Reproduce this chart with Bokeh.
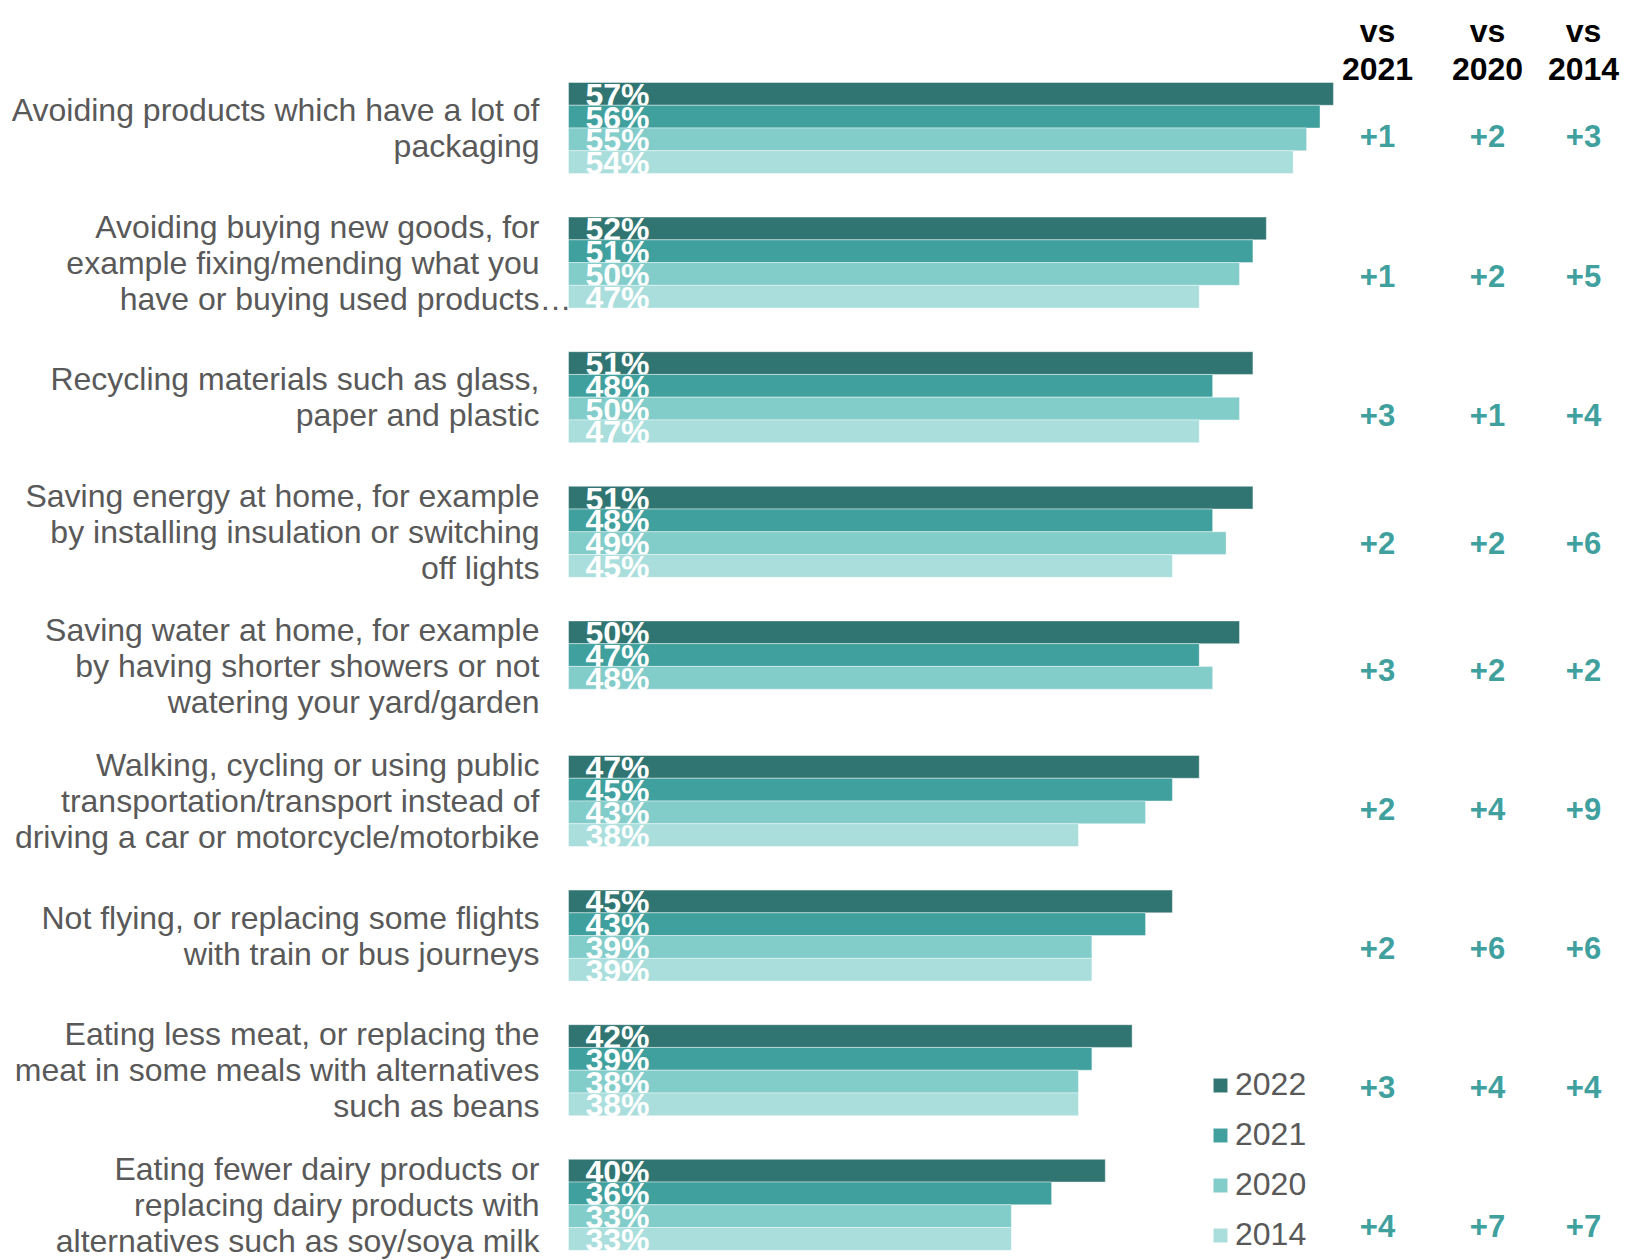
import numpy as np
from bokeh.plotting import figure
from bokeh.models import ColumnDataSource, Range1d, Legend, LegendItem
from bokeh.core.properties import value
from bokeh.embed import file_html
from bokeh.resources import INLINE

# ---------------- data ----------------
categories = [
    "Avoiding products which have a lot of\npackaging",
    "Avoiding buying new goods, for\nexample fixing/mending what you\nhave or buying used products\u2026",
    "Recycling materials such as glass,\npaper and plastic",
    "Saving energy at home, for example\nby installing insulation or switching\noff lights",
    "Saving water at home, for example\nby having shorter showers or not\nwatering your yard/garden",
    "Walking, cycling or using public\ntransportation/transport instead of\ndriving a car or motorcycle/motorbike",
    "Not flying, or replacing some flights\nwith train or bus journeys",
    "Eating less meat, or replacing the\nmeat in some meals with alternatives\nsuch as beans",
    "Eating fewer dairy products or\nreplacing dairy products with\nalternatives such as soy/soya milk",
]
years = ["2022", "2021", "2020", "2014"]
v2022 = [57, 52, 51, 51, 50, 47, 45, 42, 40]
v2021 = [56, 51, 48, 48, 47, 45, 43, 39, 36]
v2020 = [55, 50, 50, 49, 48, 43, 39, 38, 33]
v2014 = [54, 47, 47, 45, None, 38, 39, 38, 33]
series = [v2022, v2021, v2020, v2014]
colors = ["#317572", "#40A09E", "#82CCCA", "#A9DEDC"]

delta_headers = ["2021", "2020", "2014"]
vs2021 = ["+1", "+1", "+3", "+2", "+3", "+2", "+2", "+3", "+4"]
vs2020 = ["+2", "+2", "+1", "+2", "+2", "+4", "+6", "+4", "+7"]
vs2014 = ["+3", "+5", "+4", "+6", "+2", "+9", "+6", "+4", "+7"]
deltas = [vs2021, vs2020, vs2014]

# ---------------- layout ----------------
W, H = 1631, 1260
PX_PER_PT = 13.42      # pixels per percentage point
X0_PX = 568            # x pixel of 0 %
PITCH = 134.6          # pixels between groups
TOP0 = 127.5           # pixel y of first group centre
BAR_PX = 22.75
BH = BAR_PX / PITCH
FONT = "Liberation Sans"
GREY = "#595959"
TEAL = "#40A09E"
# table layout (pixel rows of the side table, which has its own row grid)
col_px = [1377, 1487, 1583]
row_py = [135, 275, 414, 542, 669, 808, 947, 1086, 1225]

def px_x(px):  # pixel -> data x
    return (px - X0_PX) / PX_PER_PT

def px_y(py):  # pixel -> data y
    return (py - TOP0) / PITCH

p = figure(width=W, height=H, output_backend="svg", toolbar_location=None,
           x_range=Range1d(-X0_PX / PX_PER_PT, (W - X0_PX) / PX_PER_PT),
           y_range=Range1d((H - TOP0) / PITCH, -TOP0 / PITCH),
           x_axis_location=None, y_axis_location=None, min_border=0)
p.grid.visible = False
p.outline_line_color = None
p.background_fill_color = "white"

renderers = []
for j, (yr, vals, col) in enumerate(zip(years, series, colors)):
    ys, xs, labs = [], [], []
    for i, v in enumerate(vals):
        if v is None:
            continue
        ys.append(i + (j - 1.5) * BH)
        xs.append(v)
        labs.append(f"{v}%")
    src = ColumnDataSource(dict(y=ys, right=xs, lab=labs))
    r = p.hbar(y="y", left=0, right="right", height=BH, source=src,
               fill_color=col, line_color="white", line_width=0.6, line_alpha=0.7)
    renderers.append(r)
    p.text(x=0, y="y", text="lab", source=src, x_offset=17, y_offset=1,
           text_align="left", text_baseline="middle", text_color="white",
           text_font=value(FONT), text_font_style="bold", text_font_size="32px")

# category labels (right aligned, one glyph per line)
lx, ly, loff, ltxt = [], [], [], []
ex, ey, eoff, etxt = [], [], [], []
for i, cat in enumerate(categories):
    lines = cat.split("\n")
    n = len(lines)
    for k, line in enumerate(lines):
        off = (k - (n - 1) / 2) * 36
        if line.endswith("\u2026"):
            ex.append(0); ey.append(i); eoff.append(off); etxt.append("\u2026")
            line = line[:-1]
        lx.append(0); ly.append(i); loff.append(off); ltxt.append(line)
p.text(x="x", y="y", text="t", y_offset="o", x_offset=-29,
       source=ColumnDataSource(dict(x=lx, y=ly, o=loff, t=ltxt)),
       text_align="right", text_baseline="middle", text_color=GREY,
       text_font=value(FONT), text_font_size="32px")
p.text(x="x", y="y", text="t", y_offset="o", x_offset=-29,
       source=ColumnDataSource(dict(x=ex, y=ey, o=eoff, t=etxt)),
       text_align="left", text_baseline="middle", text_color=GREY,
       text_font=value(FONT), text_font_size="32px")

# right-hand comparison table
for c, (hdr, dvals) in enumerate(zip(delta_headers, deltas)):
    cx = px_x(col_px[c])
    p.text(x=[cx, cx], y=[px_y(30), px_y(68)], text=["vs", hdr],
           text_align="center", text_baseline="middle", text_color="black",
           text_font=value(FONT), text_font_style="bold", text_font_size="32px")
    p.text(x=[cx] * len(dvals), y=[px_y(py) for py in row_py], text=dvals,
           text_align="center", text_baseline="middle", text_color=TEAL,
           text_font=value(FONT), text_font_style="bold", text_font_size="31px")

legend = Legend(items=[LegendItem(label=yr, renderers=[r]) for yr, r in zip(years, renderers)],
                location=(1211, 7), glyph_width=18, glyph_height=18,
                label_height=36, spacing=13, label_standoff=6, padding=0, margin=0,
                label_text_font=FONT, label_text_font_size="32px", label_text_color=GREY,
                border_line_alpha=0, background_fill_alpha=0)
p.add_layout(legend)

open("out.html", "w").write(file_html(p, INLINE))
